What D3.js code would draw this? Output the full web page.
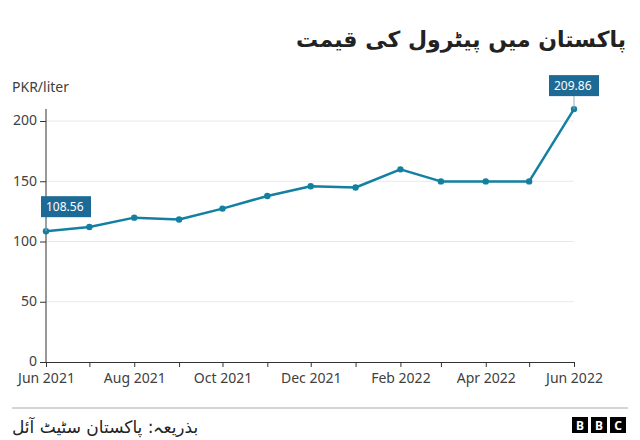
<!DOCTYPE html>
<html>
<head>
<meta charset="utf-8">
<script src="https://cdn.jsdelivr.net/npm/d3@7"></script>
<style>
  body { margin: 0; background: #fff; }
  svg { display: block; }
</style>
</head>
<body>
<div id="chart"></div>
<script>
// Data - monthly petrol price, PKR per liter
const months = ['2021-06', '2021-07', '2021-08', '2021-09', '2021-10', '2021-11', '2021-12',
                '2022-01', '2022-02', '2022-03', '2022-04', '2022-05', '2022-06'];
const prices = [108.56, 112.0, 119.8, 118.3, 127.3, 137.79, 145.82,
                144.82, 159.86, 149.86, 149.86, 149.86, 209.86];
const yTicks = [0, 50, 100, 150, 200];
const annotated = [0, 12]; // indexes with value labels

const TITLE = 'پاکستان میں پیٹرول کی قیمت';
const SOURCE = 'بذریعہ: پاکستان سٹیٹ آئل';
const Y_LABEL = 'PKR/liter';

// Visual config
const LINE_COLOR = '#1380a1';
const BOX_COLOR = '#1d6a96';
const TEXT_COLOR = '#404040';
const GRID_COLOR = '#e8e8e8';
const LATIN_FONT = '"Noto Sans", "Open Sans", sans-serif';
const URDU_FONT = '"DejaVu Sans", sans-serif';

const W = 640, H = 440;
const margin = { top: 121, right: 66, bottom: 78, left: 46 };

const parseMonth = d3.timeParse('%Y-%m');
const data = months.map((m, i) => ({ date: parseMonth(m), value: prices[i] }));

const svg = d3.select('#chart').append('svg')
    .attr('width', W)
    .attr('height', H);

const x = d3.scaleTime()
    .domain(d3.extent(data, d => d.date))
    .range([margin.left, W - margin.right]);

const y = d3.scaleLinear()
    .domain([0, 200])
    .range([H - margin.bottom, margin.top]);

// Title (rtl: anchor start = right edge)
svg.append('text')
    .attr('x', 626)
    .attr('y', 47)
    .attr('text-anchor', 'start')
    .attr('direction', 'rtl')
    .attr('font-family', URDU_FONT)
    .attr('font-weight', 'bold')
    .attr('font-size', 22)
    .attr('fill', '#222')
    .text(TITLE);

// Y label
svg.append('text')
    .attr('x', 12)
    .attr('y', 92)
    .attr('font-family', LATIN_FONT)
    .attr('font-size', 14)
    .attr('fill', TEXT_COLOR)
    .text(Y_LABEL);

// Gridlines
svg.append('g')
    .selectAll('line')
    .data(yTicks.filter(t => t > 0))
    .join('line')
    .attr('x1', margin.left)
    .attr('x2', W - margin.right)
    .attr('y1', d => y(d))
    .attr('y2', d => y(d))
    .attr('stroke', GRID_COLOR)
    .attr('stroke-width', 1);

// Y axis
const yAxis = svg.append('g')
    .attr('transform', `translate(${margin.left},0)`)
    .call(d3.axisLeft(y).tickValues(yTicks).tickSize(6).tickSizeOuter(0).tickPadding(3));
yAxis.select('.domain').remove();
yAxis.selectAll('.tick line').attr('stroke', '#333');
yAxis.selectAll('.tick text')
    .attr('font-family', LATIN_FONT)
    .attr('font-size', 14)
    .attr('dy', '0.28em')
    .attr('fill', TEXT_COLOR);
svg.append('line')
    .attr('x1', margin.left).attr('x2', margin.left)
    .attr('y1', margin.top - 12).attr('y2', y(0))
    .attr('stroke', '#333').attr('stroke-width', 1);

// X axis
const xAxis = svg.append('g')
    .attr('transform', `translate(0,${y(0)})`)
    .call(d3.axisBottom(x).ticks(d3.timeMonth.every(1)).tickSize(5).tickSizeOuter(0).tickPadding(6)
        .tickFormat(d => d.getMonth() % 2 === 1 ? d3.timeFormat('%b %Y')(d) : ''));
xAxis.select('.domain').attr('stroke', '#333');
xAxis.selectAll('.tick line').attr('stroke', '#333');
xAxis.selectAll('.tick text')
    .attr('font-family', LATIN_FONT)
    .attr('font-size', 14)
    .attr('fill', TEXT_COLOR);

// Line and points
const line = d3.line()
    .x(d => x(d.date))
    .y(d => y(d.value));

svg.append('path')
    .datum(data)
    .attr('d', line)
    .attr('fill', 'none')
    .attr('stroke', LINE_COLOR)
    .attr('stroke-width', 2.5)
    .attr('stroke-linejoin', 'round');

svg.append('g')
    .selectAll('circle')
    .data(data)
    .join('circle')
    .attr('cx', d => x(d.date))
    .attr('cy', d => y(d.value))
    .attr('r', 3.2)
    .attr('fill', LINE_COLOR);

// Value labels
const labels = svg.append('g')
    .selectAll('g')
    .data(annotated.map(i => data[i]))
    .join('g');

labels.each(function(d, i) {
    const g = d3.select(this);
    const px = x(d.date), py = y(d.value);
    const boxW = 50, boxH = 21;
    const bx = i === 0 ? px - 5 : px - boxW / 2;
    const by = i === 0 ? py - 35 : py - 34;
    g.append('line')
        .attr('x1', px).attr('x2', px)
        .attr('y1', by + boxH).attr('y2', py)
        .attr('stroke', '#9aa9b5').attr('stroke-width', 1);
    g.append('rect')
        .attr('x', bx).attr('y', by)
        .attr('width', boxW).attr('height', boxH)
        .attr('fill', BOX_COLOR);
    g.append('text')
        .attr('x', bx + 5).attr('y', by + 15)
        .attr('font-family', LATIN_FONT)
        .attr('font-size', 12)
        .attr('fill', '#fff')
        .text(d3.format('.2f')(d.value));
});

// Footer rule
svg.append('line')
    .attr('x1', 12).attr('x2', 628)
    .attr('y1', 408).attr('y2', 408)
    .attr('stroke', '#aaa').attr('stroke-width', 1);

// Source (rtl: anchor end = left edge)
svg.append('text')
    .attr('x', 12)
    .attr('y', 433)
    .attr('text-anchor', 'end')
    .attr('direction', 'rtl')
    .attr('font-family', URDU_FONT)
    .attr('font-size', 17)
    .attr('fill', '#222')
    .text(SOURCE);

// BBC logo
const logo = svg.append('g').attr('transform', 'translate(572,417)');
['B', 'B', 'C'].forEach((ch, i) => {
    logo.append('rect')
        .attr('x', i * 19).attr('y', 0)
        .attr('width', 16).attr('height', 16)
        .attr('fill', '#000');
    logo.append('text')
        .attr('x', i * 19 + 8).attr('y', 12.5)
        .attr('text-anchor', 'middle')
        .attr('font-family', LATIN_FONT)
        .attr('font-weight', 'bold')
        .attr('font-size', 12)
        .attr('fill', '#fff')
        .text(ch);
});
</script>
</body>
</html>
